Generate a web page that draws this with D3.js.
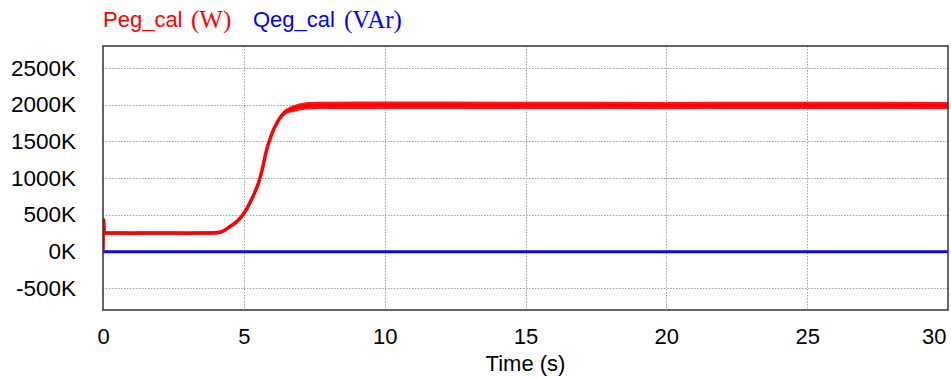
<!DOCTYPE html>
<html>
<head>
<meta charset="utf-8">
<script src="https://cdn.jsdelivr.net/npm/d3@7"></script>
<style>
  html, body { margin: 0; padding: 0; background: #fff; }
  svg { display: block; }
</style>
</head>
<body>
<svg id="chart" width="951" height="379"></svg>
<script>
// ---- data ----
const timeP = [0, 0.02, 0.05, 1, 2, 3, 3.5, 4.0, 4.2, 4.5, 4.75, 5.0, 5.25, 5.5, 5.65, 5.8, 6.0, 6.2, 6.4, 6.6, 6.8, 7.0, 7.3, 8, 10, 15, 20, 25, 30];
const pegCal = [0, 430, 250, 248, 250, 248, 250, 252, 265, 335, 405, 515, 690, 910, 1110, 1370, 1610, 1770, 1875, 1925, 1950, 1970, 1985, 1990, 1992, 1990, 1988, 1990, 1988]; // kW
const pegNoise = [0, 0, 22, 22, 22, 22, 22, 22, 22, 22, 22, 22, 22, 22, 22, 22, 25, 30, 35, 40, 45, 48, 50, 50, 50, 50, 50, 50, 50]; // kW half-band
const timeQ = [0, 10, 20, 30];
const qegCal = [-5, -5, -5, -5]; // kVAr
const xTicks = [0, 5, 10, 15, 20, 25, 30];
const yTicks = [-500, 0, 500, 1000, 1500, 2000, 2500];
const yTickLabels = ["-500K", "0K", "500K", "1000K", "1500K", "2000K", "2500K"];

// ---- layout ----
const L = 103, T = 46, R = 948, B = 310;
const svg = d3.select("#chart");
const x = d3.scaleLinear().domain([0, 30]).range([L, R]);
const y = d3.scaleLinear().domain([-800, 2800]).range([B, T]);
const FONT = "Liberation Sans, Arial, sans-serif";

// grid
const grid = svg.append("g").attr("stroke", "#a0a0a0").attr("stroke-width", 1).attr("stroke-dasharray", "1.5,1.5");
grid.selectAll("line.h").data(yTicks).join("line")
  .attr("x1", L).attr("x2", R)
  .attr("y1", d => Math.round(y(d)) + 0.5).attr("y2", d => Math.round(y(d)) + 0.5);
grid.selectAll("line.v").data(xTicks.filter(d => d > 0 && d < 30)).join("line")
  .attr("y1", T).attr("y2", B)
  .attr("x1", d => Math.round(x(d)) + 0.5).attr("x2", d => Math.round(x(d)) + 0.5);

// y axis labels
const yAxis = d3.axisLeft(y).tickValues(yTicks).tickSize(0).tickPadding(27)
  .tickFormat((d, i) => yTickLabels[i]);
const gy = svg.append("g").attr("transform", `translate(${L},0)`).call(yAxis);
gy.select(".domain").remove();
gy.selectAll("text").attr("font-family", FONT).attr("font-size", 22.5).attr("fill", "#000");

// x axis labels
const xAxis = d3.axisBottom(x).tickValues(xTicks).tickSize(0).tickPadding(18);
const gx = svg.append("g").attr("transform", `translate(0,${B})`).call(xAxis);
gx.select(".domain").remove();
gx.selectAll("text").attr("font-family", FONT).attr("font-size", 22).attr("fill", "#000");
gx.selectAll(".tick").filter(d => d === 30).select("text")
  .attr("text-anchor", "end").attr("dx", -2);

svg.append("text").attr("x", x(15)).attr("y", 371)
  .attr("text-anchor", "middle")
  .attr("font-family", FONT).attr("font-size", 22)
  .text("Time (s)");

// lines
svg.append("clipPath").attr("id", "clip").append("rect")
  .attr("x", L).attr("y", T).attr("width", R - L).attr("height", B - T);

const bandP = d3.area().curve(d3.curveMonotoneX)
  .x((d, i) => x(timeP[i]))
  .y0((d, i) => y(d - pegNoise[i]))
  .y1((d, i) => y(d + pegNoise[i]));
const lineP = d3.line().curve(d3.curveMonotoneX).x((d, i) => x(timeP[i])).y(d => y(d));
const lineQ = d3.line().x((d, i) => x(timeQ[i])).y(d => y(d));

svg.append("path").datum(qegCal).attr("d", lineQ)
  .attr("fill", "none").attr("stroke", "#0a0ae0").attr("stroke-width", 3)
  .attr("clip-path", "url(#clip)");
svg.append("path").datum(pegCal).attr("d", bandP)
  .attr("fill", "#ff1a1a")
  .attr("clip-path", "url(#clip)");
svg.append("path").datum(pegCal).attr("d", lineP)
  .attr("fill", "none").attr("stroke", "#ff0000").attr("stroke-width", 3.5)
  .attr("stroke-linejoin", "round")
  .attr("clip-path", "url(#clip)");

// frame
svg.append("rect").attr("x", L).attr("y", T).attr("width", R - L).attr("height", B - T)
  .attr("fill", "none").attr("stroke", "#333").attr("stroke-width", 1.5);

// legend
const leg = svg.append("g");
leg.append("text").attr("x", 103).attr("y", 27).attr("fill", "#ff0000")
  .attr("font-family", FONT).attr("font-size", 22).text("Peg_cal");
leg.append("text").attr("x", 191).attr("y", 28).attr("fill", "#ff0000")
  .attr("font-family", "Liberation Serif, Times New Roman, serif").attr("font-size", 25).text("(W)");
leg.append("text").attr("x", 253).attr("y", 27).attr("fill", "#0000ff")
  .attr("font-family", FONT).attr("font-size", 22).text("Qeg_cal");
leg.append("text").attr("x", 344).attr("y", 28).attr("fill", "#0000ff")
  .attr("font-family", "Liberation Serif, Times New Roman, serif").attr("font-size", 25).text("(VAr)");
</script>
</body>
</html>
